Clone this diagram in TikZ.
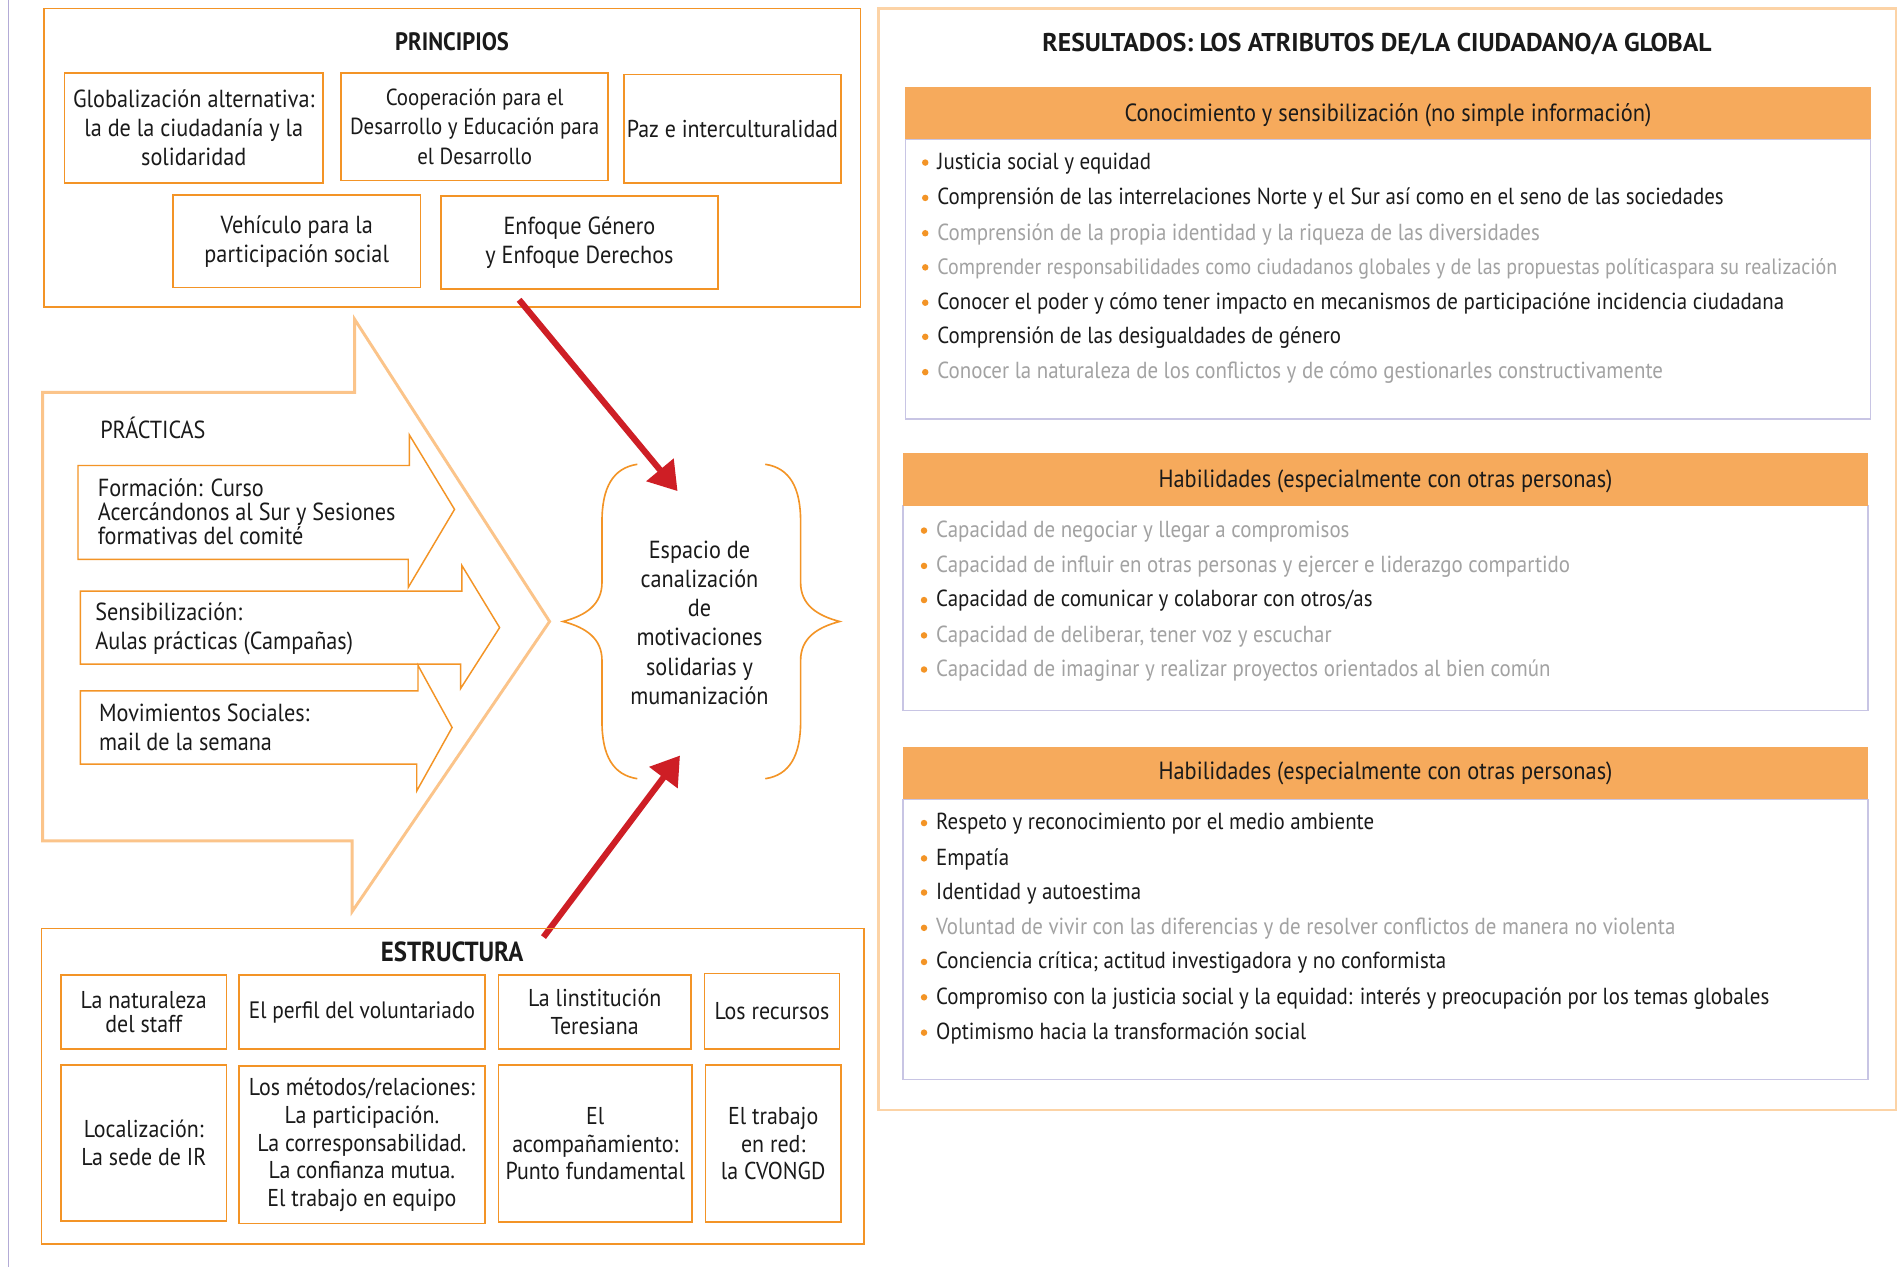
\documentclass[tikz,border=0pt]{standalone}
\usepackage{fontspec}
\setmainfont{PT Sans}[FakeStretch=0.9]
\newfontfamily\widefont{PT Sans}
\usetikzlibrary{fit,arrows.meta}
\definecolor{ora}{HTML}{F39426}
\definecolor{lora}{HTML}{FBC48A}
\definecolor{pora}{HTML}{FCD3A6}
\definecolor{hdrc}{HTML}{F6AA5C}
\definecolor{lav}{HTML}{C8C5E4}
\definecolor{pur}{HTML}{B3ABD6}
\definecolor{rd}{HTML}{CE1E25}
\definecolor{gr}{HTML}{A2A2A2}
\definecolor{bk}{HTML}{1A1A1A}
\newcommand\tightfont{\fontsize{15.2}{14.8}\selectfont\lineskiplimit=-20pt\relax}
\newcommand\staffont{\fontsize{15}{15}\selectfont\lineskiplimit=-20pt\relax}
\begin{document}
\begin{tikzpicture}[x=0.75pt,y=-0.75pt,
  every node/.style={font=\fontsize{15.2}{18}\selectfont, text=bk},
  frame/.style={draw=ora, line width=1pt, inner sep=0pt},
  obox/.style={draw=ora, line width=1pt, inner sep=0pt},
  btext/.style={align=center, inner sep=0pt},
  etext/.style={align=center, inner sep=0pt, font=\fontsize{15}{17}\selectfont},
  ttl/.style={font=\fontsize{15.5}{18}\selectfont\bfseries},
  bigarr/.style={draw=lora, line width=1.8pt, line join=miter},
  sarr/.style={draw=ora, line width=0.9pt, fill=white, line join=miter},
  atext/.style={anchor=west, align=left, inner sep=0pt},
  brace/.style={draw=ora, line width=1pt},
  redarr/.style={draw=rd, line width=3.8pt, -{Triangle[length=17pt,width=21pt]}},
  hdr/.style={fill=hdrc, inner sep=0pt},
  htext/.style={inner sep=0pt, font=\fontsize{15.3}{18}\selectfont},
  bodyb/.style={draw=lav, line width=0.9pt, inner sep=0pt},
  itm/.style={anchor=base west, inner sep=0pt, font=\fontsize{14.3}{18}\selectfont},
  gi/.style={itm, text=gr},
  bul/.style={fill=ora}
]
\useasboundingbox (0,0) rectangle (1560,1040);
\fill[white] (0,0) rectangle (1560,1040);
\draw[pur, line width=1pt] (7,0) -- (7,1040);

% PRINCIPIOS
\node[frame, fit={(36,7)(706,252)}] (princ) {};
\node[ttl] (princt) at (371,34) {PRINCIPIOS};
\node[obox, fit={(53,60)(265,150)}] (p1) {};
\node[btext] (p1t) at (p1.center) {Globalización alternativa:\\la de la ciudadanía y la\\solidaridad};
\node[obox, fit={(280,60)(499,148)}] (p2) {};
\node[btext, font=\fontsize{14.3}{18}\selectfont] (p2t) at (p2.center) {Cooperación para el\\Desarrollo y Educación para\\el Desarrollo};
\node[obox, fit={(512,61)(690,150)}] (p3) {};
\node[btext, font=\fontsize{15}{18}\selectfont] (p3t) at (p3.center) {Paz e interculturalidad};
\node[obox, fit={(142,160)(345,236)}] (p4) {};
\node[btext] (p4t) at (p4.center) {Vehículo para la\\participación social};
\node[obox, fit={(362,161)(589,237)}] (p5) {};
\node[btext] (p5t) at (p5.center) {Enfoque Género\\y Enfoque Derechos};

% PRACTICAS
\draw[bigarr] (35,322) -- (291,322) -- (291,262) -- (451,510) -- (289,748) -- (289,690) -- (35,690) -- cycle;
\node[anchor=west, inner sep=0pt] (pract) at (82,351) {PRÁCTICAS};
\draw[sarr] (64,382) -- (336,382) -- (336,357) -- (373,418) -- (335,482) -- (335,459) -- (64,459) -- cycle;
\node[atext, font=\tightfont] (f1) at (80,420) {Formación: Curso\\Acercándonos al Sur y Sesiones\\formativas del comité};
\draw[sarr] (66,485) -- (379,485) -- (379,464) -- (410,515) -- (378,565) -- (378,545) -- (66,545) -- cycle;
\node[atext] (f2) at (78,516) {Sensibilización:\\Aulas prácticas (Campañas)};
\draw[sarr] (66,567) -- (343,567) -- (343,546) -- (371,597) -- (342,649) -- (342,627) -- (66,627) -- cycle;
\node[atext] (f3) at (81,597) {Movimientos Sociales:\\mail de la semana};

% brace
\draw[brace] (523,381) .. controls (503,384) and (494,400) .. (494,428) -- (494,478) .. controls (494,496) and (481,505) .. (462,510) .. controls (481,515) and (494,524) .. (494,542) -- (494,592) .. controls (494,620) and (503,636) .. (523,639);
\draw[brace] (628,381) .. controls (648,384) and (657,400) .. (657,428) -- (657,478) .. controls (657,496) and (670,505) .. (689,510) .. controls (670,515) and (657,524) .. (657,542) -- (657,592) .. controls (657,620) and (648,636) .. (628,639);
\node[btext] (esp) at (574,511) {Espacio de\\canalización\\de\\motivaciones\\solidarias y\\mumanización};

% red arrows
\coordinate (r1s) at (426,246);
\coordinate (r1e) at (556,403);
\coordinate (r2s) at (446,769);
\coordinate (r2e) at (558,620);
\draw[redarr] (r1s) -- (r1e);
\draw[redarr] (r2s) -- (r2e);

% ESTRUCTURA
\node[frame, fit={(34,762)(709,1021)}] (estr) {};
\node[ttl, font=\fontsize{17}{18}\selectfont\bfseries] (estrt) at (371,781) {ESTRUCTURA};
\node[obox, fit={(50,800)(186,861)}] (e1) {};
\node[etext, font=\staffont] (e1t) at (e1.center) {La naturaleza\\del staff};
\node[obox, fit={(196,800)(398,861)}] (e2) {};
\node[etext, font=\fontsize{14.6}{17}\selectfont] (e2t) at (e2.center) {El perfil del voluntariado};
\node[obox, fit={(409,800)(567,861)}] (e3) {};
\node[etext] (e3t) at (e3.center) {La linstitución\\Teresiana};
\node[obox, fit={(578,799)(689,861)}] (e4) {};
\node[etext] (e4t) at (e4.center) {Los recursos};
\node[obox, fit={(50,874)(186,1002)}] (e5) {};
\node[etext] (e5t) at (e5.center) {Localización:\\La sede de IR};
\node[obox, fit={(196,875)(398,1004)}] (e6) {};
\node[etext] (e6t) at (e6.center) {Los métodos/relaciones:\\La participación.\\La corresponsabilidad.\\La confianza mutua.\\El trabajo en equipo};
\node[obox, fit={(409,874)(568,1003)}] (e7) {};
\node[etext] (e7t) at (e7.center) {El\\acompañamiento:\\Punto fundamental};
\node[obox, fit={(579,874)(690,1003)}] (e8) {};
\node[etext] (e8t) at (e8.center) {El trabajo\\en red:\\la CVONGD};

% RESULTADOS
\node[draw=pora, line width=1.6pt, inner sep=0pt, fit={(721,7)(1556,911)}] (res) {};
\node[font=\widefont\fontsize{15.8}{18}\selectfont\bfseries] (rest) at (1130,36) {RESULTADOS: LOS ATRIBUTOS DE/LA CIUDADANO/A GLOBAL};

\node[bodyb, fit={(743,114)(1535,344)}] (b1) {};
\node[hdr, fit={(743,71)(1535,114)}] (h1) {};
\node[htext] (h1t) at ([yshift=-1.5pt]h1.center) {Conocimiento y sensibilización (no simple información)};
\node[itm] (a1) at (769,139) {Justicia social y equidad};
\node[itm] (a2) at (769,168) {Comprensión de las interrelaciones Norte y el Sur así como en el seno de las sociedades};
\node[gi] (a3) at (769,197) {Comprensión de la propia identidad y la riqueza de las diversidades};
\node[gi, font=\fontsize{13.65}{18}\selectfont] (a4) at (769,225) {Comprender responsabilidades como ciudadanos globales y de las propuestas políticaspara su realización};
\node[itm] (a5) at (769,254) {Conocer el poder y cómo tener impacto en mecanismos de participacióne incidencia ciudadana};
\node[itm] (a6) at (769,282) {Comprensión de las desigualdades de género};
\node[gi] (a7) at (769,311) {Conocer la naturaleza de los conflictos y de cómo gestionarles constructivamente};

\node[bodyb, fit={(741,415)(1533,583)}] (b2) {};
\node[hdr, fit={(741,372)(1533,415)}] (h2) {};
\node[htext] (h2t) at ([yshift=-1pt]h2.center) {Habilidades (especialmente con otras personas)};
\node[gi] (c1) at (768,441) {Capacidad de negociar y llegar a compromisos};
\node[gi] (c2) at (768,470) {Capacidad de influir en otras personas y ejercer e liderazgo compartido};
\node[itm] (c3) at (768,498) {Capacidad de comunicar y colaborar con otros/as};
\node[gi] (c4) at (768,527) {Capacidad de deliberar, tener voz y escuchar};
\node[gi] (c5) at (768,555) {Capacidad de imaginar y realizar proyectos orientados al bien común};

\node[bodyb, fit={(741,656)(1533,886)}] (b3) {};
\node[hdr, fit={(741,613)(1533,656)}] (h3) {};
\node[htext] (h3t) at (h3.center) {Habilidades (especialmente con otras personas)};
\node[itm] (d1) at (768,681) {Respeto y reconocimiento por el medio ambiente};
\node[itm] (d2) at (768,710) {Empatía};
\node[itm] (d3) at (768,738) {Identidad y autoestima};
\node[gi] (d4) at (768,767) {Voluntad de vivir con las diferencias y de resolver conflictos de manera no violenta};
\node[itm] (d5) at (768,795) {Conciencia crítica; actitud investigadora y no conformista};
\node[itm] (d6) at (768,824) {Compromiso con la justicia social y la equidad: interés y preocupación por los temas globales};
\node[itm] (d7) at (768,853) {Optimismo hacia la transformación social};

\foreach \n in {a1,a2,a3,a4,a5,a6,a7,c1,c2,c3,c4,c5,d1,d2,d3,d4,d5,d6,d7}
  \fill[bul] ([xshift=-7.3pt,yshift=4.2pt]\n.base west) circle (2pt);
\end{tikzpicture}
\end{document}
